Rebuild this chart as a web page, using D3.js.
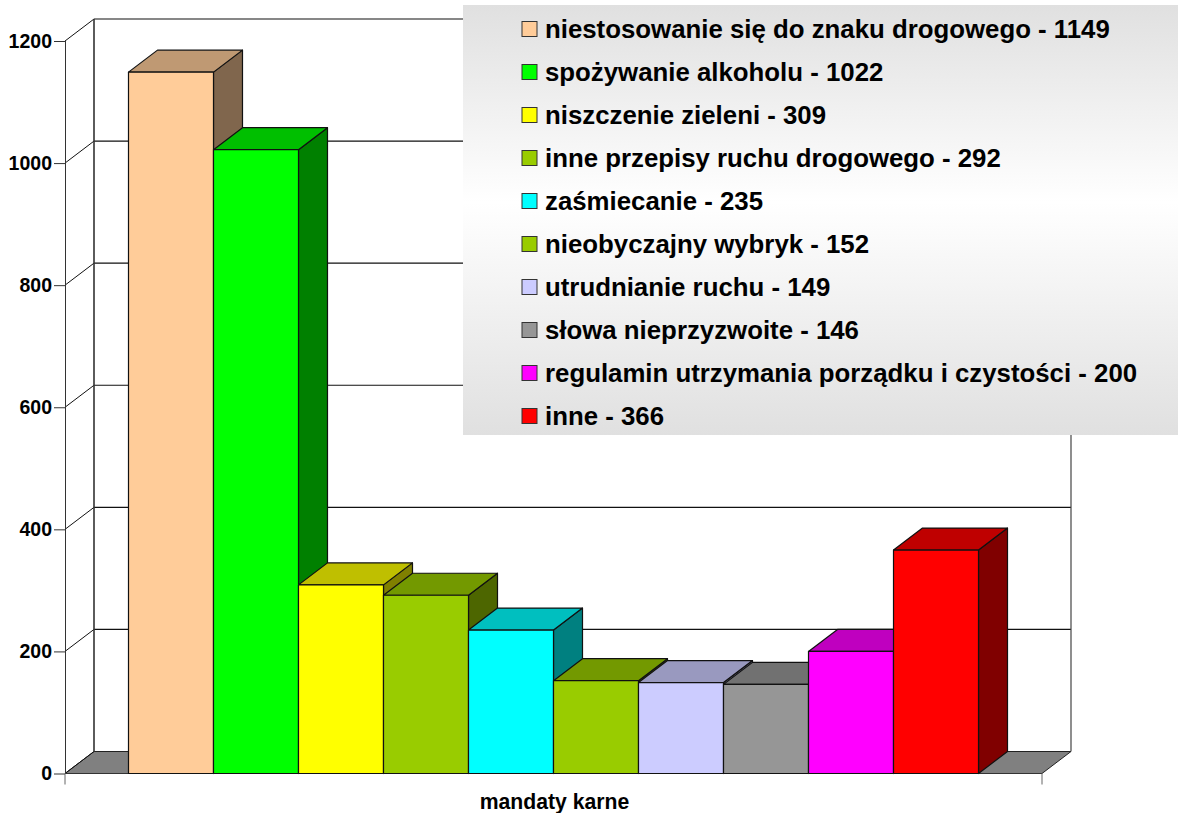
<!DOCTYPE html>
<html>
<head>
<meta charset="utf-8">
<script src="https://cdn.jsdelivr.net/npm/d3@7"></script>
<style>
  html, body { margin: 0; padding: 0; background: #fff; }
  svg { display: block; }
  text { font-family: "Liberation Sans", Arial, sans-serif; font-weight: bold; fill: #000; }
</style>
</head>
<body>
<div id="grafico"></div>
<script>
// Datos
var categorias = ["niestosowanie się do znaku drogowego", "spożywanie alkoholu", "niszczenie zieleni",
    "inne przepisy ruchu drogowego", "zaśmiecanie", "nieobyczajny wybryk", "utrudnianie ruchu",
    "słowa nieprzyzwoite", "regulamin utrzymania porządku i czystości", "inne"];
var valores = [1149, 1022, 309, 292, 235, 152, 149, 146, 200, 366];
var colores = ["#ffcc99", "#00ff00", "#ffff00", "#99cc00", "#00ffff", "#99cc00", "#ccccff", "#969696", "#ff00ff", "#ff0000"];
var ticksY = [0, 200, 400, 600, 800, 1000, 1200];
var tituloX = "mandaty karne";

var width = 1178, height = 813;
var x0 = 65, x1 = 1042, y0 = 773.5, y1 = 41;
var fondoX = 29, fondoY = -22; // desplazamiento de la profundidad 3D

var svg = d3.select("#grafico").append("svg")
    .attr("width", width)
    .attr("height", height);

var x = d3.scaleBand()
    .domain(categorias)
    .range([x0, x1])
    .paddingInner(0)
    .paddingOuter(0.747);

var y = d3.scaleLinear()
    .domain([0, 1200])
    .range([y0, y1]);

// Oscurece un color para las caras superior y lateral
function sombra(color, f) {
    var c = d3.rgb(color);
    return d3.rgb(c.r * f, c.g * f, c.b * f).formatHex();
}

function poligono(puntos) {
    return d3.line()(puntos) + "Z";
}

// Suelo
svg.append("path")
    .attr("d", poligono([[x0, y0], [x0 + fondoX, y0 + fondoY], [x1 + fondoX, y0 + fondoY], [x1, y0]]))
    .attr("fill", "#808080")
    .attr("stroke", "#222")
    .attr("stroke-width", 1);

// Rejilla del fondo
ticksY.forEach(function (t) {
    if (t > 0) {
        svg.append("line")
            .attr("x1", x0 + fondoX).attr("x2", x1 + fondoX)
            .attr("y1", y(t) + fondoY).attr("y2", y(t) + fondoY)
            .attr("stroke", "#111").attr("stroke-width", 1.2);
    }
    svg.append("line")
        .attr("x1", x0).attr("x2", x0 + fondoX)
        .attr("y1", y(t)).attr("y2", y(t) + fondoY)
        .attr("stroke", "#111").attr("stroke-width", 1);
});

// Paredes
svg.append("line")
    .attr("x1", x0 + fondoX).attr("x2", x0 + fondoX)
    .attr("y1", y(1200) + fondoY).attr("y2", y(0) + fondoY)
    .attr("stroke", "#333").attr("stroke-width", 1.6);
svg.append("line")
    .attr("x1", x1 + fondoX).attr("x2", x1 + fondoX)
    .attr("y1", y(1200) + fondoY).attr("y2", y(0) + fondoY)
    .attr("stroke", "#444").attr("stroke-width", 1.2);

// Eje Y
var ejeY = svg.append("g")
    .attr("transform", "translate(" + x0 + ",0)")
    .call(d3.axisLeft(y).tickValues(ticksY).tickSize(11).tickPadding(2).tickFormat(d3.format("d")));
ejeY.selectAll("path, line").attr("stroke", "#333").attr("stroke-width", 1);
ejeY.selectAll("text").style("font-size", "19.5px");
ejeY.select(".domain").attr("d", "M0.5," + y1 + "V" + y0);

// Eje X
var ejeX = svg.append("g");
ejeX.append("line").attr("x1", x0).attr("x2", x1).attr("y1", y0).attr("y2", y0)
    .attr("stroke", "#333").attr("stroke-width", 1.2);
[x0, x1].forEach(function (p) {
    ejeX.append("line").attr("x1", p).attr("x2", p).attr("y1", y0).attr("y2", y0 + 11)
        .attr("stroke", "#666").attr("stroke-width", 1);
});
svg.append("text")
    .attr("x", (x0 + x1) / 2 + 1)
    .attr("y", 809)
    .attr("text-anchor", "middle")
    .style("font-size", "21.2px")
    .text(tituloX);

// Barras 3D, de izquierda a derecha para que se solapen bien
var barras = svg.selectAll(".barra")
    .data(categorias)
    .enter().append("g")
    .attr("class", "barra");

barras.each(function (d, i) {
    var g = d3.select(this);
    var izq = x(d), der = x(d) + x.bandwidth(), arriba = y(valores[i]);

    g.append("path") // lateral
        .attr("d", poligono([[der, arriba], [der + fondoX, arriba + fondoY], [der + fondoX, y0 + fondoY], [der, y0]]))
        .attr("fill", sombra(colores[i], 0.5));
    g.append("path") // superior
        .attr("d", poligono([[izq, arriba], [izq + fondoX, arriba + fondoY], [der + fondoX, arriba + fondoY], [der, arriba]]))
        .attr("fill", sombra(colores[i], 0.75));
    g.append("rect") // frente
        .attr("x", izq)
        .attr("y", arriba)
        .attr("width", x.bandwidth())
        .attr("height", y0 - arriba)
        .attr("fill", colores[i]);
    g.selectAll("path, rect")
        .attr("stroke", "#111")
        .attr("stroke-width", 1.2)
        .attr("stroke-linejoin", "round");
});

// Leyenda con degradado
var grad = svg.append("defs").append("linearGradient")
    .attr("id", "fondoLeyenda")
    .attr("x1", 0).attr("x2", 0).attr("y1", 0).attr("y2", 1);
grad.append("stop").attr("offset", "0%").attr("stop-color", "#e0e0e0");
grad.append("stop").attr("offset", "46%").attr("stop-color", "#ffffff");
grad.append("stop").attr("offset", "100%").attr("stop-color", "#e0e0e0");

svg.append("rect")
    .attr("x", 463).attr("y", 5)
    .attr("width", 715).attr("height", 430)
    .attr("fill", "url(#fondoLeyenda)");

var yLeyenda = d3.scalePoint()
    .domain(categorias)
    .range([29, 416]);

var filas = svg.selectAll(".fila")
    .data(categorias)
    .enter().append("g")
    .attr("class", "fila")
    .attr("transform", function (d) { return "translate(0," + yLeyenda(d) + ")"; });

filas.append("rect")
    .attr("x", 522).attr("y", -7.5)
    .attr("width", 15).attr("height", 15)
    .attr("fill", function (d, i) { return colores[i]; })
    .attr("stroke", "#333").attr("stroke-width", 1);

filas.append("text")
    .attr("x", 545).attr("y", 8.5)
    .style("font-size", "25.8px")
    .text(function (d, i) { return d + " - " + valores[i]; });
</script>
</body>
</html>
